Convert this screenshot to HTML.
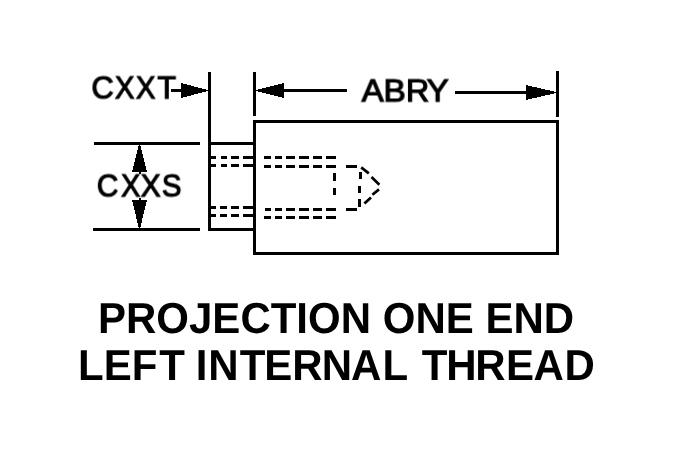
<!DOCTYPE html>
<html>
<head>
<meta charset="utf-8">
<style>
html,body{margin:0;padding:0;background:#fff;}
body{width:683px;height:465px;position:relative;overflow:hidden;font-family:"Liberation Sans",sans-serif;color:#000;}
svg{position:absolute;left:0;top:0;}
.t{will-change:transform;position:absolute;white-space:nowrap;line-height:1;transform-origin:0 0;font-kerning:none;}
.lab{font-size:32px;-webkit-text-stroke:1.2px #000;}
.ttl{text-rendering:geometricPrecision;font-size:42px;font-weight:bold;transform:scaleY(1.0345);}
</style>
</head>
<body>
<svg width="683" height="465" viewBox="0 0 683 465">
<g fill="#000" stroke="none" shape-rendering="crispEdges">
<rect x="253" y="120" width="306" height="3"/><rect x="253" y="252" width="306" height="3"/><rect x="253" y="120" width="3" height="135"/><rect x="556" y="120" width="3" height="135"/><rect x="208" y="142" width="46" height="3"/><rect x="208" y="228" width="46" height="3"/><rect x="208" y="72" width="3" height="159"/><rect x="253" y="72" width="3" height="44"/><rect x="556" y="71" width="3" height="46"/><rect x="94" y="142" width="106" height="3"/><rect x="93" y="228" width="107" height="3"/><rect x="171" y="89" width="11" height="3"/><rect x="283" y="89" width="64" height="3"/><rect x="455" y="91" width="72" height="3"/><rect x="139" y="171" width="2" height="3"/><rect x="139" y="198" width="2" height="3"/><rect x="211" y="156" width="5" height="3"/><rect x="221" y="156" width="6" height="3"/><rect x="231" y="156" width="8" height="3"/><rect x="243" y="156" width="10" height="3"/><rect x="211" y="164" width="5" height="3"/><rect x="221" y="164" width="6" height="3"/><rect x="231" y="164" width="8" height="3"/><rect x="243" y="164" width="10" height="3"/><rect x="211" y="206" width="5" height="3"/><rect x="220" y="206" width="7" height="3"/><rect x="231" y="206" width="8" height="3"/><rect x="243" y="206" width="10" height="3"/><rect x="211" y="214" width="5" height="3"/><rect x="220" y="214" width="7" height="3"/><rect x="231" y="214" width="8" height="3"/><rect x="243" y="214" width="10" height="3"/><rect x="264" y="156" width="7" height="3"/><rect x="275" y="156" width="7" height="3"/><rect x="286" y="156" width="9" height="3"/><rect x="299" y="156" width="10" height="3"/><rect x="313" y="156" width="9" height="3"/><rect x="326" y="156" width="10" height="3"/><rect x="264" y="165" width="7" height="3"/><rect x="275" y="165" width="7" height="3"/><rect x="286" y="165" width="9" height="3"/><rect x="299" y="165" width="10" height="3"/><rect x="313" y="165" width="9" height="3"/><rect x="326" y="165" width="10" height="3"/><rect x="265" y="208" width="6" height="3"/><rect x="275" y="208" width="7" height="3"/><rect x="286" y="208" width="9" height="3"/><rect x="299" y="208" width="10" height="3"/><rect x="313" y="208" width="9" height="3"/><rect x="326" y="208" width="10" height="3"/><rect x="264" y="216" width="7" height="3"/><rect x="275" y="216" width="7" height="3"/><rect x="286" y="216" width="9" height="3"/><rect x="299" y="216" width="10" height="3"/><rect x="313" y="216" width="9" height="3"/><rect x="326" y="216" width="10" height="3"/><rect x="333" y="173" width="3" height="8"/><rect x="333" y="188" width="3" height="7"/><rect x="346" y="165" width="11" height="3"/><rect x="346" y="208" width="11" height="3"/><rect x="359" y="172" width="3" height="7"/><rect x="358" y="186" width="3" height="7"/><rect x="358" y="199" width="3" height="8"/>
<polygon points="208,90 208,91 181,98 181,83"/>
<polygon points="256,90 256,91 284,98 284,83"/>
<polygon points="556,92 556,93 526,100 526,85"/>
<polygon points="138.8,145 140.2,145 147,171.5 132,171.5"/>
<polygon points="138.8,228 140.2,228 147,200 132,200"/>
</g>
<g stroke="#000" stroke-width="2.7" fill="none">
<path d="M361.2 167.4L368.8 173.4M371.5 177L379.4 184.8M379 189.4L372.4 194.8M371 197.4L364.4 203.5"/>
</g>
</svg>
<div class="t lab" style="left:90.6px;top:71px;transform:translateY(0.5px) scale(0.96,0.999);transform-origin:11.5px 0;">C</div><div class="t lab" style="left:114px;top:71px;transform:translateY(0.5px) scale(0.91,0.999);transform-origin:10.5px 0;">X</div><div class="t lab" style="left:135px;top:71px;transform:translateY(0.5px) scale(0.91,0.999);transform-origin:10.5px 0;">X</div><div class="t lab" style="left:156.5px;top:71px;transform:translateY(0.5px) scale(0.95,0.999);transform-origin:9.5px 0;">T</div>
<div class="t lab" style="left:96.3px;top:169px;transform:translateY(0.5px) scale(0.93,0.999);transform-origin:11.5px 0;">C</div><div class="t lab" style="left:119.5px;top:169px;transform:translateY(0.5px) scale(0.89,0.999);transform-origin:10.5px 0;">X</div><div class="t lab" style="left:140.4px;top:169px;transform:translateY(0.5px) scale(0.93,0.999);transform-origin:10.5px 0;">X</div><div class="t lab" style="left:161.1px;top:169px;transform:translateY(0.5px) scale(0.92,0.999);transform-origin:10.5px 0;">S</div>
<div class="t lab" style="left:361.5px;top:74px;transform:translateY(0.5px) scale(1.03,0.999);transform-origin:11px 0;">A</div><div class="t lab" style="left:384px;top:74px;transform:translateY(0.5px) scale(1.04,0.999);transform-origin:11px 0;">B</div><div class="t lab" style="left:405.9px;top:74px;transform:translateY(0.5px) scale(1.01,0.999);transform-origin:12px 0;">R</div><div class="t lab" style="left:426.9px;top:74px;transform:translateY(0.5px) scale(1.03,0.999);transform-origin:10.5px 0;">Y</div>
<div class="t ttl" style="left:98px;top:296.8px;">PROJECTION ONE END</div>
<div class="t ttl" style="left:78px;top:343.8px;">LEF<span style="position:relative;left:2px">T</span> <span style="position:relative;left:1px">I</span><span style="position:relative;left:2px">N</span><span style="position:relative;left:3px">T</span><span style="position:relative;left:2px">E</span><span style="position:relative;left:2px">R</span><span style="position:relative;left:1px">N</span>A<span style="position:relative;left:1px">L</span> <span style="position:relative;left:3px">T</span><span style="position:relative;left:2px">H</span><span style="position:relative;left:0.5px">R</span><span style="position:relative;left:1px">E</span><span style="position:relative;left:0.5px">A</span><span style="position:relative;left:1px">D</span></div>
</body>
</html>
